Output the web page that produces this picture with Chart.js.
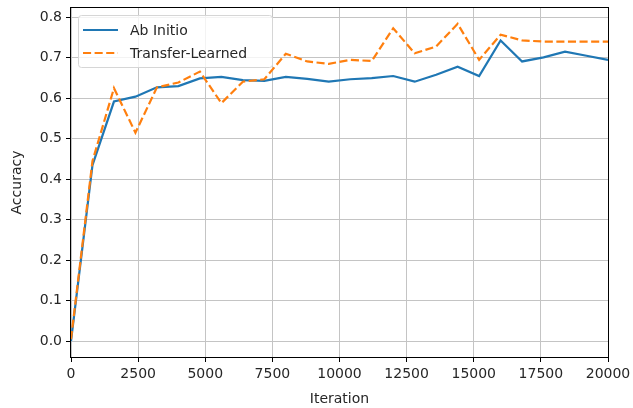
<!DOCTYPE html>
<html>
<head>
<meta charset="utf-8">
<script src="https://cdn.jsdelivr.net/npm/chart.js@4"></script>
<style>
  body { margin: 0; background: #fff; }
  #wrap { width: 633px; height: 408px; }
</style>
</head>
<body>
<div id="wrap"><canvas id="accChart" width="633" height="408"></canvas></div>
<script>
const iterations = [0, 800, 1600, 2400, 3200, 4000, 4800, 5600, 6400, 7200, 8000, 8800, 9600,
    10400, 11200, 12000, 12800, 13600, 14400, 15200, 16000, 16800, 17600, 18400, 19200, 20000];
const abInitio = [0.0, 0.435, 0.592, 0.604, 0.627, 0.630, 0.649, 0.653, 0.645, 0.643, 0.653, 0.648, 0.641,
    0.647, 0.650, 0.655, 0.641, 0.658, 0.678, 0.655, 0.743, 0.691, 0.701, 0.715, 0.705, 0.695];
const transferLearned = [0.005, 0.445, 0.625, 0.515, 0.627, 0.639, 0.666, 0.588, 0.641, 0.647, 0.710, 0.691, 0.685,
    0.695, 0.692, 0.773, 0.711, 0.728, 0.784, 0.695, 0.757, 0.743, 0.740, 0.740, 0.740, 0.740];
const xTicks = [0, 2500, 5000, 7500, 10000, 12500, 15000, 17500, 20000];
const yTicks = [0.0, 0.1, 0.2, 0.3, 0.4, 0.5, 0.6, 0.7, 0.8];

const BLUE = '#1f77b4';
const ORANGE = '#ff7f0e';
const FONT = 'DejaVu Sans';
const DASH = [8.1, 3.5];

function toPoints(ys) {
    return iterations.map((x, i) => ({ x: x, y: ys[i] }));
}

// full box around the plot, like matplotlib spines
const frame = {
    id: 'frame',
    afterDatasetsDraw(chart) {
        const a = chart.chartArea;
        const c = chart.ctx;
        c.save();
        c.strokeStyle = '#000';
        c.lineWidth = 1;
        c.strokeRect(Math.round(a.left) - 0.5, Math.round(a.top) - 0.5,
            Math.round(a.right - a.left) + 1, Math.round(a.bottom - a.top) + 1);
        c.restore();
    }
};

// legend box in the upper left corner of the plot
const innerLegend = {
    id: 'innerLegend',
    afterDraw(chart) {
        const c = chart.ctx;
        const a = chart.chartArea;
        const bx = a.left + 7, by = a.top + 7, bw = 194, bh = 52;
        c.save();
        c.beginPath();
        c.roundRect(bx + 0.5, by + 0.5, bw, bh, 3);
        c.fillStyle = 'rgba(255,255,255,0.8)';
        c.fill();
        c.strokeStyle = '#d6d6d6';
        c.lineWidth = 1;
        c.stroke();
        const rows = [
            { label: 'Ab Initio', color: BLUE, dash: [] },
            { label: 'Transfer-Learned', color: ORANGE, dash: DASH }
        ];
        rows.forEach((r, i) => {
            const y = by + 15 + i * 23;
            c.beginPath();
            c.setLineDash(r.dash);
            c.strokeStyle = r.color;
            c.lineWidth = 2.2;
            c.moveTo(bx + 5, y);
            c.lineTo(bx + 40, y);
            c.stroke();
            c.setLineDash([]);
            c.fillStyle = '#262626';
            c.font = '14px "' + FONT + '"';
            c.textBaseline = 'middle';
            c.textAlign = 'left';
            c.fillText(r.label, bx + 52, y + 1);
        });
        c.restore();
    }
};

const ctx = document.getElementById('accChart').getContext('2d');
const accChart = new Chart(ctx, {
    type: 'line',
    data: {
        datasets: [
            {
                label: 'Ab Initio',
                data: toPoints(abInitio),
                borderColor: BLUE,
                borderWidth: 2.2,
                pointRadius: 0,
                tension: 0,
                fill: false,
                order: 2,
            },
            {
                label: 'Transfer-Learned',
                data: toPoints(transferLearned),
                borderColor: ORANGE,
                borderWidth: 2.2,
                borderDash: DASH,
                pointRadius: 0,
                tension: 0,
                fill: false,
                order: 1,
            }
        ]
    },
    options: {
        responsive: false,
        animation: false,
        events: [],
        layout: {
            padding: { left: 4, right: 25, top: 8, bottom: 0 }
        },
        scales: {
            x: {
                type: 'linear',
                min: 0,
                max: 20000,
                afterBuildTicks: (axis) => { axis.ticks = xTicks.map(v => ({ value: v })); },
                afterFit: (axis) => { axis.height = 51; axis.paddingLeft = 0; axis.paddingRight = 0; },
                border: { display: false },
                grid: { color: '#c4c4c4', lineWidth: 1, tickColor: '#000', tickLength: 5 },
                ticks: {
                    color: '#262626',
                    font: { family: FONT, size: 14 },
                    padding: 4,
                    maxRotation: 0,
                    autoSkip: false,
                    callback: (v) => String(v),
                },
                title: {
                    display: true,
                    text: 'Iteration',
                    color: '#262626',
                    font: { family: FONT, size: 14 },
                    padding: { top: 0, bottom: 0 },
                }
            },
            y: {
                type: 'linear',
                min: -0.039,
                max: 0.823,
                afterBuildTicks: (axis) => { axis.ticks = yTicks.map(v => ({ value: v })); },
                afterFit: (axis) => { axis.width = 67; axis.paddingTop = 0; axis.paddingBottom = 0; },
                border: { display: false },
                grid: { color: '#c4c4c4', lineWidth: 1, tickColor: '#000', tickLength: 5 },
                ticks: {
                    color: '#262626',
                    font: { family: FONT, size: 14 },
                    padding: 4,
                    autoSkip: false,
                    callback: (v) => v.toFixed(1),
                },
                title: {
                    display: true,
                    text: 'Accuracy',
                    color: '#262626',
                    font: { family: FONT, size: 14 },
                    padding: { top: 5, bottom: 0 },
                }
            }
        },
        plugins: {
            legend: { display: false },
            tooltip: { enabled: false },
        }
    },
    plugins: [frame, innerLegend]
});
</script>
</body>
</html>
